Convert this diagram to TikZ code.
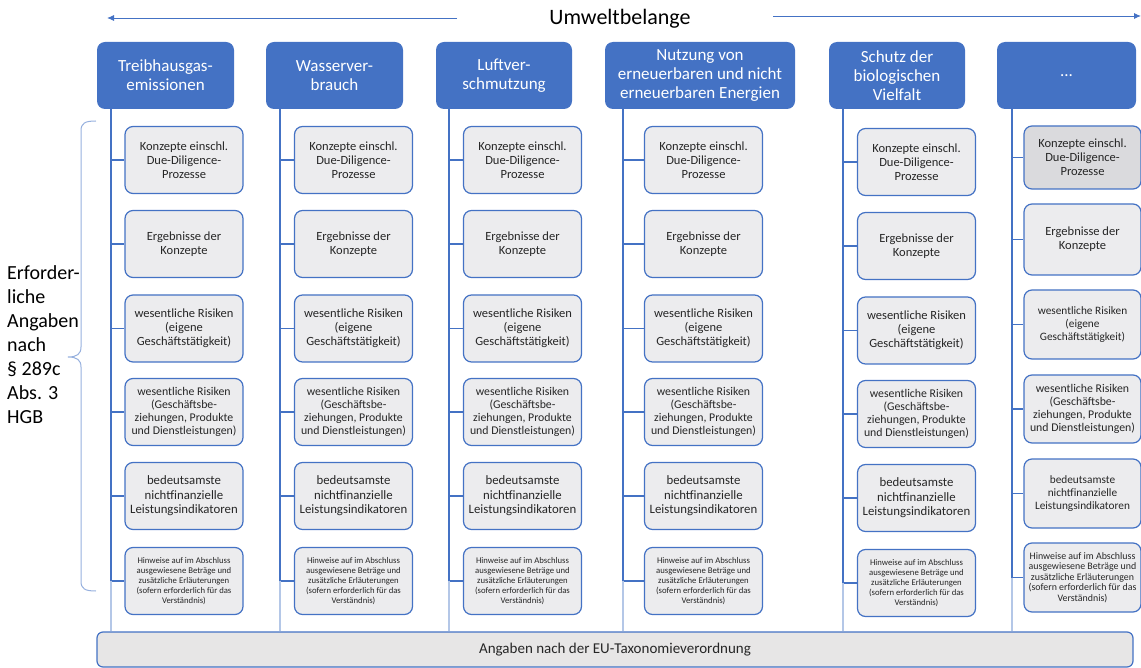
\documentclass[tikz,border=0pt]{standalone}
\usepackage{fontspec}
\setmainfont{Carlito}
\usetikzlibrary{arrows.meta}
\definecolor{hdrblue}{RGB}{68,114,196}
\definecolor{paleblue}{RGB}{180,199,231}
\definecolor{braceblue}{RGB}{150,176,222}
\definecolor{subgrey}{RGB}{236,236,238}
\definecolor{subdark}{RGB}{218,218,221}
\definecolor{bargrey}{RGB}{231,230,230}
\tikzset{hdr/.style={fill=hdrblue, rounded corners=8pt, text=white, minimum height=67pt, inner sep=0pt, align=center, font=\fontsize{17}{19}\selectfont}}
\tikzset{subbox/.style={draw=hdrblue, line width=1.2pt, fill=subgrey, rounded corners=8pt, minimum width=118pt, minimum height=67pt, inner sep=0pt, align=center, text=black!85}}
\tikzset{fA/.style={font=\fontsize{12.5}{14}\selectfont}}
\tikzset{fB/.style={font=\fontsize{11.8}{13}\selectfont}}
\tikzset{fC/.style={font=\fontsize{12.8}{14.5}\selectfont}}
\tikzset{fD/.style={font=\fontsize{8.7}{10}\selectfont}}
\tikzset{fE/.style={font=\fontsize{11.3}{13}\selectfont}}
\tikzset{fF/.style={font=\fontsize{9.9}{10.6}\selectfont}}
\tikzset{trunk/.style={draw=hdrblue, line width=1.3pt}}
\tikzset{trunkpale/.style={draw=paleblue, line width=1.1pt}}
\tikzset{twig/.style={draw=hdrblue, line width=1.3pt}}
\tikzset{arrowline/.style={draw=hdrblue, line width=0.9pt, -{Latex[length=7pt,width=6pt]}}}
\tikzset{barbox/.style={draw=hdrblue, line width=1.2pt, fill=bargrey, rounded corners=6pt, minimum width=1036pt, minimum height=35pt, inner sep=0pt, font=\fontsize{15}{17}\selectfont, text=black!85}}

\begin{document}
\begin{tikzpicture}[x=1pt, y=-1pt]
\path [use as bounding box] (0,0) rectangle (1141,668);

% title and arrows
\node [font=\fontsize{22}{24}\selectfont] (title) at (620,19) {Umweltbelange};
\coordinate (la) at (457,18);
\coordinate (lb) at (107,18);
\coordinate (ra) at (773,16);
\coordinate (rb) at (1141,16);
\draw [arrowline] (la) -- (lb);
\draw [arrowline] (ra) -- (rb);

% bottom bar
\node [barbox] (bar) at (615,649.5) {Angaben nach der EU-Taxonomieverordnung};

% left brace and label
\node [font=\fontsize{20}{24}\selectfont, align=left, anchor=west, inner sep=0pt] (req) at (7,345) {Erforder-\\liche\\Angaben\\nach\\§ 289c\\Abs. 3\\HGB};
\coordinate (bt) at (96,121);
\coordinate (bb) at (96,591);
\draw [draw=braceblue, line width=1pt] (bt) .. controls (85,121) and (81,123) .. (81,131) -- (81,347)
  .. controls (81,354) and (77,357) .. (68,357) .. controls (77,357) and (81,360) .. (81,367)
  -- (81,581) .. controls (81,589) and (85,591) .. (bb);

% columns 1-5
\foreach \i/\hx/\hw/\vx/\bx/\dy/\htxt in {
  1/165.5/137/111/184/0/{Treibhausgas-\\emissionen},
  2/334.5/137/280/353.5/0/{Wasserver-\\brauch},
  3/504/136/449/522.5/0/{Luftver-\\schmutzung},
  4/700/190/623/703.5/0/{Nutzung von\\erneuerbaren und nicht\\erneuerbaren Energien},
  5/897/136/843/916.5/2/{Schutz der\\biologischen\\Vielfalt}} {
  \node [hdr, minimum width=\hw] (h\i) at (\hx,75.5) {\htxt};
  \coordinate (t\i) at (\vx,109);
  \foreach \rw/\ry/\rs/\txt in {
    1/160/fA/{Konzepte einschl.\\Due-Diligence-\\Prozesse},
    2/244/fA/{Ergebnisse der\\Konzepte},
    3/328.5/fA/{wesentliche Risiken\\(eigene\\Geschäftstätigkeit)},
    4/412/fB/{wesentliche Risiken\\(Geschäftsbe-\\ziehungen, Produkte\\und Dienstleistungen)},
    5/496/fC/{bedeutsamste\\nichtfinanzielle\\Leistungsindikatoren},
    6/581/fD/{Hinweise auf im Abschluss\\ausgewiesene Beträge und\\zusätzliche Erläuterungen\\(sofern erforderlich für das\\Verständnis)}} {
    \node [subbox, \rs] (c\i-\rw) at (\bx,\ry+\dy) {\txt};
    \draw [twig] (t\i |- c\i-\rw.west) -- (c\i-\rw.west);
  }
  \draw [trunk] (t\i) -- (t\i |- c\i-6.west);
  \draw [trunkpale] (t\i |- c\i-6.west) -- (t\i |- bar.north);
}

% column 6
\node [hdr, minimum width=139] (h6) at (1066.5,75.5) {...};
\coordinate (t6) at (1012,109);
\foreach \rw/\ry/\rh/\rs/\rf/\txt in {
  1/157.5/63/fA/subdark/{Konzepte einschl.\\Due-Diligence-\\Prozesse},
  2/239.5/71/fA/subgrey/{Ergebnisse der\\Konzepte},
  3/324.5/69/fE/subgrey/{wesentliche Risiken\\(eigene\\Geschäftstätigkeit)},
  4/409/68/fB/subgrey/{wesentliche Risiken\\(Geschäftsbe-\\ziehungen, Produkte\\und Dienstleistungen)},
  5/493.5/69/fE/subgrey/{bedeutsamste\\nichtfinanzielle\\Leistungsindikatoren},
  6/577.5/69/fF/subgrey/{Hinweise auf im Abschluss\\ausgewiesene Beträge und\\zusätzliche Erläuterungen\\(sofern erforderlich für das\\Verständnis)}} {
  \node [subbox, \rs, fill=\rf, minimum height=\rh, minimum width=117] (c6-\rw) at (1082.5,\ry) {\txt};
  \draw [twig] (t6 |- c6-\rw.west) -- (c6-\rw.west);
}
\draw [trunk] (t6) -- (t6 |- c6-6.west);
\draw [trunkpale] (t6 |- c6-6.west) -- (t6 |- bar.north);
\end{tikzpicture}
\end{document}
